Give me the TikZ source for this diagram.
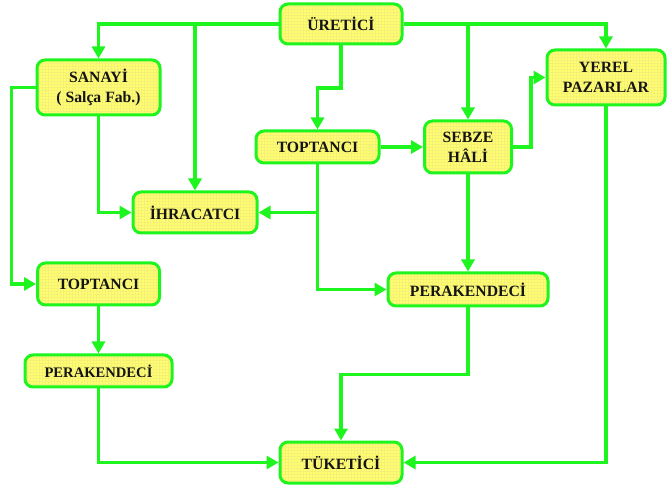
\documentclass[tikz,border=0pt]{standalone}
\usepackage{fontspec}
\setmainfont{Liberation Serif}
\usetikzlibrary{arrows.meta,patterns}
\definecolor{lgreen}{RGB}{30,245,30}
\definecolor{byellow}{RGB}{255,255,110}
\definecolor{gridc}{RGB}{245,240,120}
\definecolor{txt}{RGB}{20,20,20}
\begin{document}
\begin{tikzpicture}[x=1pt,y=-1pt,
  box/.style={draw=lgreen, line width=3pt, rounded corners=8pt,
    preaction={fill=byellow},
    preaction={pattern=grid, pattern color=gridc},
    align=center, inner sep=0pt, text=txt,
    font=\bfseries\fontsize{15.7}{20}\selectfont},
  arr/.style={draw=lgreen, line width=3.6pt, -{Triangle[length=12pt,width=13pt]}}]
\useasboundingbox (0,0) rectangle (667,486);
\fill[white] (0,0) rectangle (667,486);
\node[box, minimum width=122, minimum height=40] (ure) at (341,24) {ÜRETİCİ};
\node[box, minimum width=123, minimum height=55] (san) at (98.5,87.5) {SANAYİ\\( Salça Fab.)};
\node[box, minimum width=123, minimum height=32] (top) at (317.5,147) {TOPTANCI};
\node[box, minimum width=87, minimum height=52] (seb) at (468,147) {SEBZE\\HÂLİ};
\node[box, minimum width=118, minimum height=55] (yer) at (606,77.5) {YEREL\\PAZARLAR};
\node[box, minimum width=124, minimum height=41] (ihr) at (195,212.5) {İHRACATCI};
\node[box, minimum width=122, minimum height=42] (topL) at (98.5,284) {TOPTANCI};
\node[box, minimum width=147, minimum height=32, font=\bfseries\fontsize{14.6}{18}\selectfont] (perL) at (98.5,371) {PERAKENDECİ};
\node[box, minimum width=160, minimum height=33] (perM) at (468,289.5) {PERAKENDECİ};
\node[box, minimum width=122, minimum height=41] (tuk) at (341,462.5) {TÜKETİCİ};
\coordinate (k1) at (0,88);
\draw[arr] (ure.west) -| (san.north);
\draw[arr] (ure.west -| ihr.north) -- (ihr.north);
\draw[arr] (ure.south) -- (ure.south |- k1) -| (top.north);
\draw[arr] (ure.east) -| (yer.north);
\draw[arr] (ure.east -| seb.north) -- (seb.north);
\draw[arr] (top.east) -- (seb.west);
\draw[arr] (seb.east) -- ++(18,0) |- (yer.west);
\draw[arr] (seb.south) -- (perM.north);
\draw[arr] (top.south) |- (perM.west);
\draw[arr] (top.south |- ihr.east) -- (ihr.east);
\draw[arr] (san.south) |- (ihr.west);
\draw[arr] (san.west) -- ++(-24,0) |- (topL.west);
\draw[arr] (topL.south) -- (perL.north);
\draw[arr] (perL.south) |- (tuk.west);
\draw[arr] (perM.south) -- ++(0,67) -| (tuk.north);
\draw[arr] (yer.south) |- (tuk.east);
\end{tikzpicture}
\end{document}
